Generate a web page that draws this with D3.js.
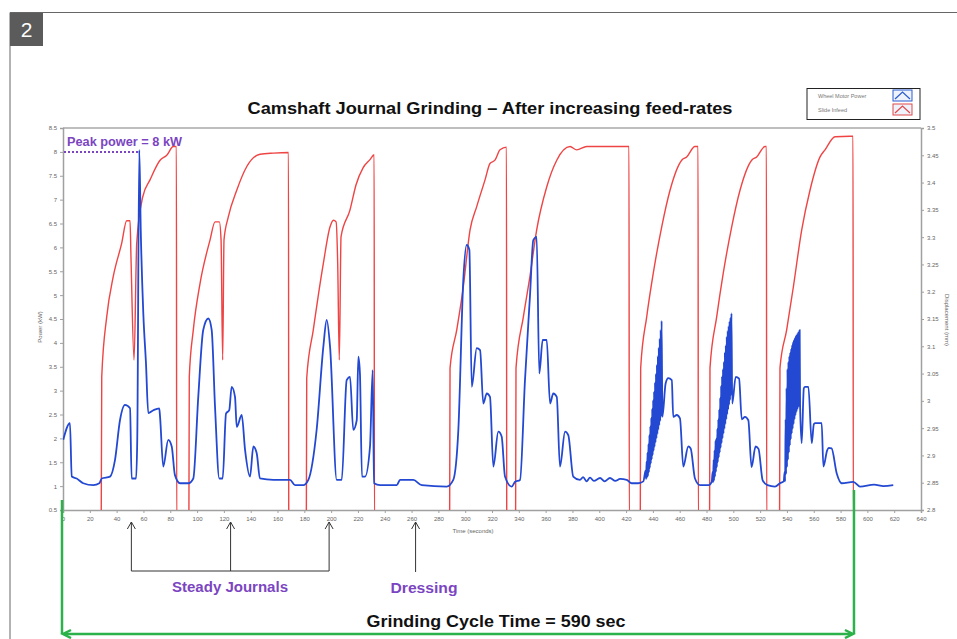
<!DOCTYPE html>
<html>
<head>
<meta charset="utf-8">
<script src="https://cdn.jsdelivr.net/npm/d3@7"></script>
<style>
  body { margin: 0; background: #fff; }
  svg { display: block; }
</style>
</head>
<body>
<div id="chart"></div>
<script>
// time ticks (seconds) and the two axis tick sets
const timeTicks = d3.range(0, 641, 20)
const powerTicks = d3.range(0.5, 8.51, 0.5)
const dispTicks = d3.range(2.8, 3.501, 0.05)

// Slide Infeed (mm), [time, displacement]
const slideInfeed = [
  [0, 2.78], [28.5, 2.78], [28.9, 3.044], [32.6, 3.154], [37.5, 3.228], [43.8, 3.289], [47.5, 3.330], [50.0, 3.330],
  [50.7, 3.264], [53.0, 3.075], [55.0, 3.289], [59.5, 3.374], [64.9, 3.405], [72.4, 3.441], [77.4, 3.450], [82.3, 3.466],
  [84.6, 3.466], [84.8, 2.78],
  [93.9, 2.78], [94.2, 3.044], [97.2, 3.130], [102.2, 3.215], [109.7, 3.295], [113.4, 3.328], [116.6, 3.328],
  [117.9, 3.295], [119.1, 3.075], [120.1, 3.295], [123.3, 3.337], [129.6, 3.386], [137.0, 3.429], [147.0, 3.452],
  [156.9, 3.454], [168.2, 3.455], [168.4, 2.78],
  [181.5, 2.78], [181.8, 3.042], [186.7, 3.130], [194.2, 3.252], [199.2, 3.319], [201.7, 3.331], [203.7, 3.328],
  [204.9, 3.252], [206.1, 3.075], [207.4, 3.301], [214.1, 3.350], [218.6, 3.396], [223.8, 3.427], [229.0, 3.442],
  [232.1, 3.451], [232.3, 2.78],
  [288.4, 2.78], [288.7, 3.060], [293.7, 3.130], [298.6, 3.209], [303.6, 3.313], [308.6, 3.356], [314.8, 3.405],
  [318.5, 3.435], [322.2, 3.441], [326.0, 3.460], [330.8, 3.465], [331.0, 2.78],
  [337.6, 2.78], [337.9, 3.060], [343.4, 3.154], [348.3, 3.228], [353.3, 3.313], [360.8, 3.392], [368.3, 3.441],
  [378.2, 3.466], [383.2, 3.460], [390.6, 3.466], [422.2, 3.466], [422.4, 2.78],
  [430.6, 2.78], [430.9, 3.060], [435.4, 3.154], [440.3, 3.234], [446.6, 3.319], [452.8, 3.386], [461.5, 3.441],
  [465.2, 3.447], [471.4, 3.466], [473.7, 3.466], [473.9, 2.78],
  [482.3, 2.78], [482.6, 3.060], [487.6, 3.154], [492.5, 3.234], [498.8, 3.319], [505.0, 3.386], [513.7, 3.441],
  [517.4, 3.447], [523.6, 3.466], [524.7, 3.466], [524.9, 2.78],
  [534.5, 2.78], [534.8, 3.060], [539.8, 3.130], [544.8, 3.209], [551.0, 3.313], [557.2, 3.386], [564.7, 3.447],
  [568.4, 3.460], [575.9, 3.484], [587.1, 3.485], [589.3, 3.485], [589.5, 2.78], [620, 2.78]
]

// Wheel Motor Power (kW), [time, power]
const wheelPower = [
  [0.2, 1.97], [5.2, 2.32], [6.5, 1.20], [10.2, 1.16], [15.1, 1.06], [22.6, 1.02], [27.1, 1.06], [28.9, 1.16],
  [35.1, 1.20], [38.8, 1.55], [42.5, 2.38], [46.2, 2.70], [50.0, 2.63], [51.2, 1.16], [54.5, 1.16], [55.4, 2.00],
  [56.9, 8.04], [58.0, 6.36], [59.9, 4.62], [61.9, 3.57], [63.6, 2.53], [67.4, 2.59], [71.8, 2.63], [72.4, 2.45],
  [74.8, 1.41], [78.5, 1.97], [81.1, 1.83], [83.5, 1.23], [87.3, 1.06], [93.5, 1.06], [97.2, 1.16], [100.9, 2.87],
  [104.6, 4.27], [108.4, 4.51], [110.9, 4.27], [113.4, 2.66], [116.6, 1.16], [119.1, 1.16], [121.6, 2.52],
  [124.0, 2.59], [125.8, 3.08], [128.3, 2.87], [129.6, 2.24], [133.3, 2.49], [135.8, 1.76], [139.5, 1.20],
  [142.0, 1.83], [144.5, 1.69], [146.9, 1.16], [156.9, 1.13], [169.3, 1.13], [173.1, 1.02], [179.2, 1.02],
  [183.0, 1.13], [189.2, 2.18], [194.2, 3.92], [196.7, 4.48], [199.2, 3.92], [204.2, 1.13], [207.9, 1.13],
  [211.6, 3.22], [214.1, 3.29], [216.5, 2.18], [219.1, 2.38], [220.3, 3.71], [221.5, 3.36], [223.0, 1.20],
  [225.3, 1.20], [229.0, 1.83], [231.0, 3.43], [232.0, 1.06], [236.5, 1.02], [248.9, 1.02], [251.4, 1.13],
  [261.3, 1.13], [267.6, 1.02], [286.2, 0.99], [291.1, 1.13], [294.9, 2.18], [298.6, 5.32], [301.1, 6.05],
  [303.1, 5.95], [304.9, 3.08], [308.6, 3.89], [311.1, 3.85], [313.5, 2.73], [316.1, 2.94], [318.5, 2.87],
  [321.0, 1.41], [324.7, 2.14], [327.2, 2.04], [329.7, 1.20], [334.7, 0.99], [337.2, 1.09], [340.9, 1.13],
  [344.6, 3.22], [348.3, 4.97], [350.8, 6.15], [353.3, 6.22], [355.3, 3.36], [357.8, 4.06], [360.8, 4.06],
  [363.3, 2.73], [365.7, 2.94], [368.3, 2.87], [370.7, 1.41], [374.5, 2.14], [376.9, 2.07], [380.6, 1.20],
  [385.6, 1.13], [388.0, 1.19], [390.5, 1.10], [393.1, 1.18], [396.0, 1.11], [400.6, 1.17], [404.0, 1.10],
  [408.0, 1.17], [412.0, 1.11], [415.5, 1.15], [420.5, 1.13], [424.2, 1.06], [429.1, 1.06], [432.9, 1.10],
  // chatter burst, journal 6
  [434.6, 1.33], [434.95, 1.15], [435.3, 1.51], [435.65, 1.18], [436.0, 1.70], [436.35, 1.21], [436.7, 1.88],
  [437.05, 1.29], [437.4, 2.07], [437.75, 1.38], [438.1, 2.25], [438.45, 1.47], [438.8, 2.43], [439.15, 1.56],
  [439.5, 2.62], [439.85, 1.65], [440.2, 2.80], [440.55, 1.74], [440.9, 2.98], [441.25, 1.82], [441.6, 3.17],
  [441.95, 1.91], [442.3, 3.35], [442.65, 2.00], [443.0, 3.54], [443.35, 2.09], [443.7, 3.72], [444.05, 2.18],
  [444.4, 3.90], [444.75, 2.27], [445.1, 4.09], [445.45, 2.36], [445.8, 4.27], [446.15, 2.45], [446.5, 4.46],
  [447.1, 2.45], [449.5, 3.15], [451.5, 3.26], [454.1, 3.22], [455.2, 2.45], [457.8, 2.49], [460.2, 2.42],
  [462.7, 1.41], [466.4, 1.83], [468.2, 1.79], [471.4, 1.16], [475.2, 1.02], [481.4, 1.02], [483.9, 1.09],
  // chatter burst, journal 7
  [484.6, 1.30], [484.95, 1.08], [485.3, 1.55], [485.65, 1.12], [486.0, 1.75], [486.35, 1.20], [486.7, 1.95],
  [487.05, 1.30], [487.4, 2.00], [487.75, 1.40], [488.1, 2.20], [488.45, 1.50], [488.8, 2.40], [489.15, 1.60],
  [489.5, 2.60], [489.85, 1.70], [490.2, 2.85], [490.55, 1.80], [490.9, 3.10], [491.25, 1.90], [491.6, 3.30],
  [491.95, 2.00], [492.3, 3.45], [492.65, 2.10], [493.0, 3.60], [493.35, 2.20], [493.7, 3.80], [494.05, 2.30],
  [494.4, 3.95], [494.75, 2.40], [495.1, 4.13], [495.45, 2.50], [495.8, 4.25], [496.15, 2.60], [496.5, 4.35],
  [496.85, 2.70], [497.2, 4.45], [497.55, 2.80], [497.9, 4.53], [498.25, 2.90], [498.6, 4.62],
  [499.2, 2.73], [501.8, 3.29], [504.3, 3.25], [506.3, 2.40], [508.7, 2.45], [511.2, 2.38], [513.6, 1.40],
  [516.6, 1.83], [518.8, 1.78], [521.9, 1.12], [525.5, 1.02], [531.1, 0.99], [534.8, 1.06], [537.6, 1.10],
  // chatter burst, journal 8
  [538.3, 1.30], [538.65, 1.10], [539.0, 2.40], [539.35, 1.25], [539.7, 3.05], [540.05, 1.40], [540.4, 3.45],
  [540.75, 1.55], [541.1, 3.60], [541.45, 1.70], [541.8, 3.72], [542.15, 1.85], [542.5, 3.80], [542.85, 1.98],
  [543.2, 3.88], [543.55, 2.10], [543.9, 3.96], [544.25, 2.20], [544.6, 4.02], [544.95, 2.30], [545.3, 4.07],
  [545.65, 2.40], [546.0, 4.11], [546.35, 2.48], [546.7, 4.15], [547.05, 2.55], [547.4, 4.18], [547.75, 2.60],
  [548.1, 4.21], [548.45, 2.65], [548.8, 4.24], [549.15, 2.70], [549.5, 4.27],
  [549.8, 2.70], [551.0, 1.90], [552.6, 3.05], [553.5, 3.08], [556.0, 3.08], [558.5, 1.90], [560.1, 2.30],
  [561.2, 2.32], [565.9, 2.32], [567.2, 1.41], [570.0, 1.75], [571.2, 1.80], [573.3, 1.79], [577.1, 1.27],
  [580.9, 1.06], [589.5, 1.09], [594.5, 0.99], [605.0, 1.03], [612.0, 1.00], [619.3, 1.02]
]

// annotation times (seconds)
const steadyTimes = [51, 125, 198.5]
const dressingTime = 263
const cycleTime = 590
const peakPower = 8

const W = 957, H = 639
const pLeft = 63, pRight = 921, pTop = 128, pBottom = 510

const svg = d3.select('#chart').append('svg')
  .attr('width', W).attr('height', H)
  .style('font-family', 'Liberation Sans, Arial, sans-serif')

// outer frame + badge
svg.append('path').attr('d', `M10,${H} V12.5 H${W}`)
  .attr('fill', 'none').attr('stroke', '#666').attr('stroke-width', 1)
svg.append('rect').attr('x', 10).attr('y', 13).attr('width', 33).attr('height', 33).attr('fill', '#5b5b5b')
svg.append('text').attr('x', 26.5).attr('y', 37).attr('text-anchor', 'middle')
  .attr('fill', '#fff').attr('font-size', 21).text('2')

const x = d3.scaleLinear().domain([0, 640]).range([pLeft, pRight])
const yP = d3.scaleLinear().domain([0.5, 8.5]).range([pBottom, pTop])
const yD = d3.scaleLinear().domain([2.8, 3.5]).range([pBottom, pTop])

svg.append('defs').append('clipPath').attr('id', 'plot')
  .append('rect').attr('x', pLeft).attr('y', pTop).attr('width', pRight - pLeft).attr('height', pBottom - pTop)

// frame top
svg.append('line').attr('x1', pLeft).attr('x2', pRight).attr('y1', pTop).attr('y2', pTop)
  .attr('stroke', '#a8a8a8').attr('stroke-width', 1.5)

const fmt = d => String(+d.toFixed(2))

const xAxis = svg.append('g').attr('transform', `translate(0,${pBottom})`)
  .call(d3.axisBottom(x).tickValues(timeTicks).tickSize(3).tickFormat(d3.format('d')))
const lAxis = svg.append('g').attr('transform', `translate(${pLeft},0)`)
  .call(d3.axisLeft(yP).tickValues(powerTicks).tickSize(3).tickFormat(fmt))
const rAxis = svg.append('g').attr('transform', `translate(${pRight},0)`)
  .call(d3.axisRight(yD).tickValues(dispTicks).tickSize(3).tickFormat(fmt))

;[xAxis, lAxis, rAxis].forEach(g => {
  g.select('.domain').attr('stroke', '#a0a0a0').attr('stroke-width', 1.5)
  g.selectAll('.tick line').attr('stroke', '#a0a0a0')
  g.selectAll('.tick text').attr('fill', '#666').attr('font-size', 6)
})
xAxis.selectAll('.tick text').attr('dy', '0.9em')

svg.append('text').attr('x', 473).attr('y', 533).attr('text-anchor', 'middle')
  .attr('font-size', 6).attr('fill', '#666').text('Time (seconds)')
svg.append('text').attr('transform', 'translate(42,327) rotate(-90)').attr('text-anchor', 'middle')
  .attr('font-size', 6).attr('fill', '#666').text('Power (kW)')
svg.append('text').attr('transform', 'translate(945,320) rotate(90)').attr('text-anchor', 'middle')
  .attr('font-size', 6).attr('fill', '#666').text('Displacement (mm)')

// series
const plot = svg.append('g').attr('clip-path', 'url(#plot)')
plot.append('path').datum(slideInfeed)
  .attr('fill', 'none').attr('stroke', '#ef4444').attr('stroke-width', 1.4)
  .attr('d', d3.line().curve(d3.curveMonotoneX).x(d => x(d[0])).y(d => yD(d[1])))
plot.append('path').datum(wheelPower)
  .attr('fill', 'none').attr('stroke', '#2348d2').attr('stroke-width', 1.8).attr('stroke-linejoin', 'round')
  .attr('d', d3.line().curve(d3.curveMonotoneX).x(d => x(d[0])).y(d => yP(d[1])))

// title
svg.append('text').attr('x', 490).attr('y', 114).attr('text-anchor', 'middle')
  .attr('font-size', 16).attr('font-weight', 'bold').attr('fill', '#111')
  .attr('textLength', 485).attr('lengthAdjust', 'spacingAndGlyphs')
  .text('Camshaft Journal Grinding \u2013 After increasing feed-rates')

// legend
const lg = svg.append('g')
lg.append('rect').attr('x', 807).attr('y', 88.5).attr('width', 113).attr('height', 31)
  .attr('fill', '#fff').attr('stroke', '#222').attr('stroke-width', 1)
const legendItems = [['Wheel Motor Power', '#2a5bd0'], ['Slide Infeed', '#e04848']]
legendItems.forEach((it, i) => {
  const yy = 96 + i * 14
  lg.append('text').attr('x', 818).attr('y', yy + 2).attr('font-size', 5.5).attr('fill', '#777').text(it[0])
  lg.append('rect').attr('x', 893).attr('y', yy - 6).attr('width', 19).attr('height', 11)
    .attr('fill', '#eef2fb').attr('stroke', it[1]).attr('stroke-width', 1)
  lg.append('path').attr('d', `M895,${yy + 3} L902.5,${yy - 4} L910,${yy + 3}`)
    .attr('fill', 'none').attr('stroke', it[1]).attr('stroke-width', 1.2)
})

// peak power annotation
const purple = '#7b45c2'
svg.append('line').attr('x1', pLeft + 1).attr('x2', x(56.9)).attr('y1', yP(peakPower)).attr('y2', yP(peakPower))
  .attr('stroke', purple).attr('stroke-width', 2).attr('stroke-dasharray', '2,2')
svg.append('text').attr('x', 67).attr('y', 145.5).attr('font-size', 12).attr('font-weight', 'bold')
  .attr('fill', purple).attr('textLength', 115).attr('lengthAdjust', 'spacingAndGlyphs').text('Peak power = 8 kW')

// arrows
const arrowTip = 522, arrowBase = 571
function upArrow(px, y2) {
  svg.append('line').attr('x1', px).attr('x2', px).attr('y1', arrowTip).attr('y2', y2)
    .attr('stroke', '#333').attr('stroke-width', 1)
  svg.append('path').attr('d', `M${px - 4},${arrowTip + 7} L${px},${arrowTip} L${px + 4},${arrowTip + 7}`)
    .attr('fill', 'none').attr('stroke', '#333').attr('stroke-width', 1)
}
steadyTimes.forEach(t => upArrow(x(t), arrowBase))
svg.append('line').attr('x1', x(steadyTimes[0])).attr('x2', x(steadyTimes[2]))
  .attr('y1', arrowBase).attr('y2', arrowBase).attr('stroke', '#333').attr('stroke-width', 1)
upArrow(x(dressingTime), arrowBase + 1)

svg.append('text').attr('x', 230).attr('y', 592).attr('text-anchor', 'middle').attr('font-size', 14)
  .attr('font-weight', 'bold').attr('fill', purple).attr('textLength', 116).attr('lengthAdjust', 'spacingAndGlyphs')
  .text('Steady Journals')
svg.append('text').attr('x', 424).attr('y', 593).attr('text-anchor', 'middle').attr('font-size', 14)
  .attr('font-weight', 'bold').attr('fill', purple).attr('textLength', 67).attr('lengthAdjust', 'spacingAndGlyphs')
  .text('Dressing')

// cycle time
const green = '#2bb24a'
const gx0 = x(0) - 1, gx1 = x(cycleTime), gy = 634
svg.append('line').attr('x1', gx0).attr('x2', gx0).attr('y1', 500).attr('y2', gy)
  .attr('stroke', green).attr('stroke-width', 2.5)
svg.append('line').attr('x1', gx1).attr('x2', gx1).attr('y1', 490).attr('y2', gy)
  .attr('stroke', green).attr('stroke-width', 2.5)
svg.append('line').attr('x1', gx0 + 2).attr('x2', gx1 - 2).attr('y1', gy).attr('y2', gy)
  .attr('stroke', green).attr('stroke-width', 2.5)
svg.append('path').attr('d', `M${gx0 + 9},${gy - 4} L${gx0 + 1},${gy} L${gx0 + 9},${gy + 4}`)
  .attr('fill', 'none').attr('stroke', green).attr('stroke-width', 2.5)
svg.append('path').attr('d', `M${gx1 - 9},${gy - 4} L${gx1 - 1},${gy} L${gx1 - 9},${gy + 4}`)
  .attr('fill', 'none').attr('stroke', green).attr('stroke-width', 2.5)

svg.append('text').attr('x', 496).attr('y', 627).attr('text-anchor', 'middle').attr('font-size', 16)
  .attr('font-weight', 'bold').attr('fill', '#111').attr('textLength', 259).attr('lengthAdjust', 'spacingAndGlyphs')
  .text('Grinding Cycle Time = 590 sec')
</script>
</body>
</html>
